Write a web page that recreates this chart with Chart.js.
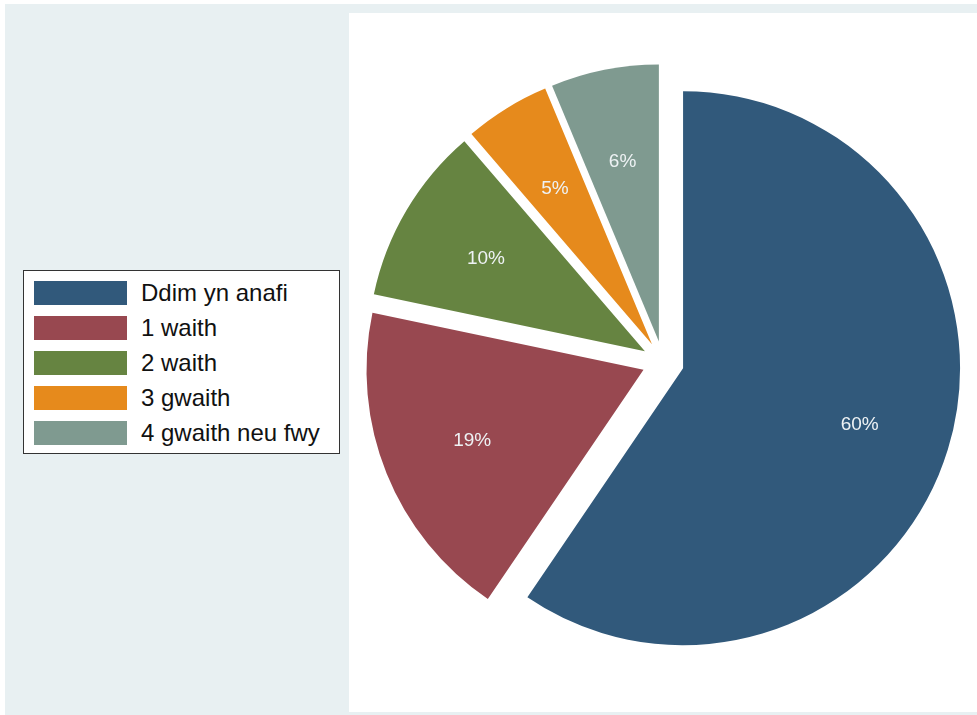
<!DOCTYPE html>
<html>
<head>
<meta charset="utf-8">
<script src="https://cdn.jsdelivr.net/npm/chart.js@4/dist/chart.umd.min.js"></script>
<style>
  body { margin:0; background:#fff; font-family:"Liberation Sans", Arial, sans-serif; }
  #outer { position:absolute; left:5px; top:4px; width:972px; height:711px; background:#e8f0f2; }
  #plot { position:absolute; left:349px; top:13px; width:628px; height:699px; background:#fff; }
  #wrap { position:absolute; left:0; top:0; width:977px; height:715px; }
  #legend { position:absolute; left:23px; top:270px; width:315px; height:182px; background:#fff;
            border:1px solid #333; box-sizing:content-box; }
  .item { position:absolute; left:10px; height:24px; }
  .sw { position:absolute; left:0; top:0; width:93px; height:24px; }
  .txt { position:absolute; left:107px; top:-2px; font-size:24px; color:#111; white-space:nowrap; line-height:28px; }
</style>
</head>
<body>
<div id="outer"></div>
<div id="plot"></div>
<div id="wrap"><canvas id="pieChart"></canvas></div>
<div id="legend"></div>
<script>
const categories = ['Ddim yn anafi', '1 waith', '2 waith', '3 gwaith', '4 gwaith neu fwy'];
const shares = [59.5, 18.8, 10.4, 5.0, 6.3];
const colors = ['#31597b', '#984850', '#668441', '#e68a1c', '#7f9a90'];

const EXPLODE = 21;

// legend (html, left side)
const legendEl = document.getElementById('legend');
categories.forEach((c, i) => {
  const it = document.createElement('div');
  it.className = 'item';
  it.style.top = (10 + i * 35) + 'px';
  it.innerHTML = '<div class="sw" style="background:' + colors[i] + '"></div><div class="txt">' + c + '</div>';
  legendEl.appendChild(it);
});

// every slice pushed out from the centre by the same distance
const explodePlugin = {
  id: 'explode',
  beforeDatasetDraw(chart, args) {
    const ctx = chart.ctx;
    args.meta.data.forEach(arc => {
      const mid = (arc.startAngle + arc.endAngle) / 2;
      ctx.save();
      ctx.translate(Math.cos(mid) * EXPLODE, Math.sin(mid) * EXPLODE);
      arc.draw(ctx);
      ctx.restore();
    });
    return false;
  },
  afterDatasetsDraw(chart) {
    const ctx = chart.ctx;
    const meta = chart.getDatasetMeta(0);
    ctx.save();
    ctx.font = '19px "Liberation Sans", Arial, sans-serif';
    ctx.fillStyle = '#eef2f4';
    ctx.textAlign = 'center';
    ctx.textBaseline = 'middle';
    meta.data.forEach((arc, i) => {
      const mid = (arc.startAngle + arc.endAngle) / 2;
      const r = EXPLODE + arc.outerRadius * 0.667;
      ctx.fillText(Math.round(shares[i]) + '%', arc.x + Math.cos(mid) * r, arc.y + Math.sin(mid) * r + 2);
    });
    ctx.restore();
  }
};

new Chart(document.getElementById('pieChart'), {
  type: 'pie',
  data: {
    labels: categories,
    datasets: [{
      data: shares,
      backgroundColor: colors,
      borderWidth: 0,
      hoverOffset: 0,
      clip: false
    }]
  },
  options: {
    responsive: true,
    maintainAspectRatio: false,
    animation: false,
    layout: { padding: { left: 386, top: 85, right: 37, bottom: 76 } },
    plugins: { legend: { display: false }, tooltip: { enabled: false } }
  },
  plugins: [explodePlugin]
});
</script>
</body>
</html>
